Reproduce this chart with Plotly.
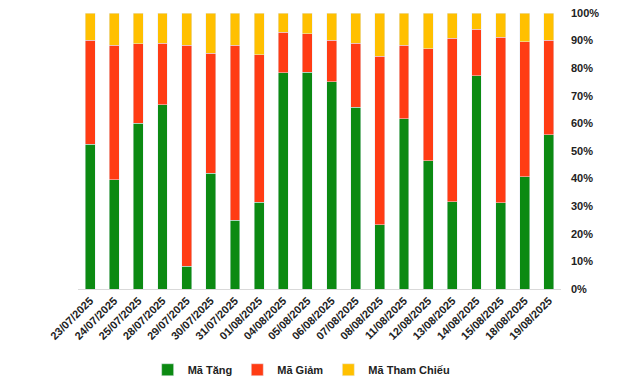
import plotly.graph_objects as go

dates = ["23/07/2025", "24/07/2025", "25/07/2025", "28/07/2025", "29/07/2025",
         "30/07/2025", "31/07/2025", "01/08/2025", "04/08/2025", "05/08/2025",
         "06/08/2025", "07/08/2025", "08/08/2025", "11/08/2025", "12/08/2025",
         "13/08/2025", "14/08/2025", "15/08/2025", "18/08/2025", "19/08/2025"]

# shares in percent
ma_tang = [52.5, 39.5, 60.1, 66.7, 8.3, 42.0, 25.0, 31.5, 78.3, 78.6,
           75.1, 65.9, 23.2, 61.6, 46.4, 31.6, 77.2, 31.3, 40.6, 55.8]
ma_giam = [37.7, 48.9, 28.7, 22.4, 80.1, 43.5, 63.4, 53.3, 14.8, 13.8,
           15.1, 23.2, 61.2, 26.8, 40.6, 59.3, 17.0, 60.0, 48.9, 34.4]
ma_tham_chieu = [9.8, 11.6, 11.2, 10.9, 11.6, 14.5, 11.6, 15.2, 6.9, 7.6,
                 9.8, 10.9, 15.6, 11.6, 13.0, 9.1, 5.8, 8.7, 10.5, 9.8]

y_ticks = [0, 10, 20, 30, 40, 50, 60, 70, 80, 90, 100]
y_ticklabels = [f"{v}%" for v in y_ticks]

font_family = "Liberation Sans, Arial, sans-serif"

fig = go.Figure()
fig.add_trace(go.Bar(x=dates, y=ma_tang, name="<b>Mã Tăng</b>", marker_color="#0C8A12"))
fig.add_trace(go.Bar(x=dates, y=ma_giam, name="<b>Mã Giảm</b>", marker_color="#FF3C14"))
fig.add_trace(go.Bar(x=dates, y=ma_tham_chieu, name="<b>Mã Tham Chiếu</b>", marker_color="#FFC000"))

fig.update_layout(
    width=632, height=375,
    barmode="stack",
    barnorm="percent",
    bargap=0.59,
    plot_bgcolor="white",
    paper_bgcolor="white",
    margin=dict(l=70, r=79, t=5, b=94, autoexpand=False),
    font=dict(family=font_family, size=11, color="#000000"),
    showlegend=True,
    legend=dict(orientation="h", x=0.462, xanchor="center", y=-0.24, yanchor="top",
                traceorder="normal", font=dict(size=11, color="#222222"),
                itemwidth=30),
    xaxis=dict(
        type="category",
        tickangle=-45,
        tickfont=dict(size=11, color="#222222"),
        tickprefix="<b>", ticksuffix="</b>",
        showline=True, linecolor="#D9D9D9", linewidth=1,
        showgrid=False, ticks="",
    ),
    yaxis=dict(
        side="right",
        range=[0, 100],
        tickvals=y_ticks,
        ticktext=[f"<b>{t}</b>" for t in y_ticklabels],
        tickfont=dict(size=11, color="#222222"),
        showgrid=False, zeroline=False, showline=False, ticks="",
        ticklabelstandoff=9,
        ticklabeloverflow="allow",
    ),
)

fig.write_html("out.html")
